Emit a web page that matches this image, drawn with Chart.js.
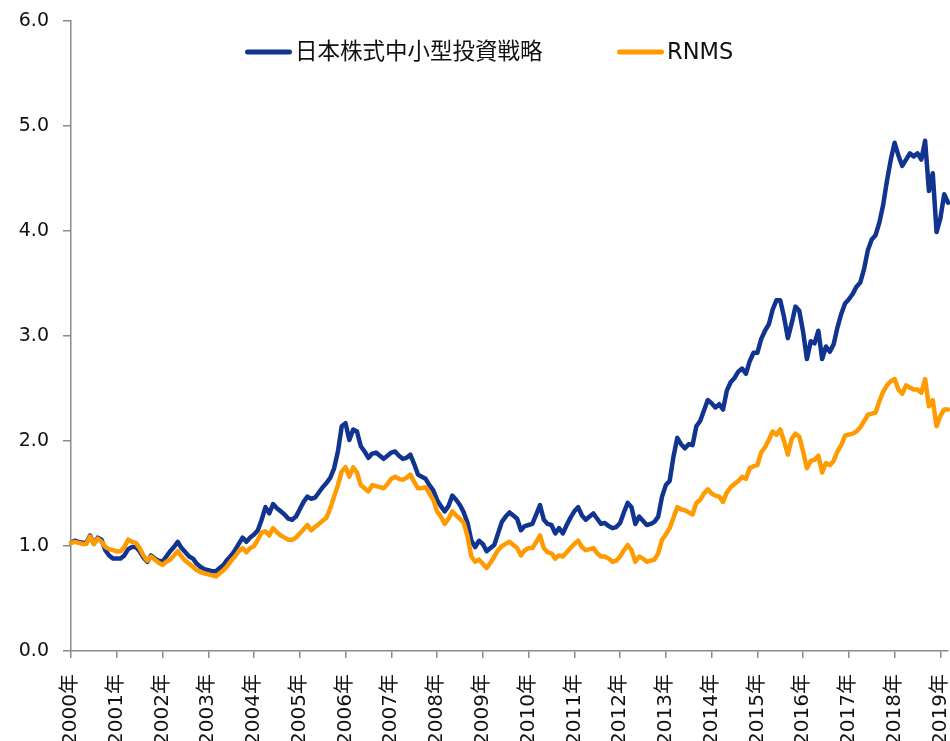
<!DOCTYPE html>
<html><head><meta charset="utf-8">
<script src="https://cdn.jsdelivr.net/npm/chart.js@4"></script>
<style>html,body{margin:0;padding:0;overflow:hidden;background:#fff}canvas{display:block}</style>
</head><body>
<canvas id="c" width="950" height="800"></canvas>
<script>
const seriesNames = ['日本株式中小型投資戦略', 'RNMS'];
const startYear = 2000;
const yearLabels = ['2000年','2001年','2002年','2003年','2004年','2005年','2006年','2007年','2008年','2009年','2010年','2011年','2012年','2013年','2014年','2015年','2016年','2017年','2018年','2019年'];
const strategy = [1.03,1.05,1.04,1.03,1.03,1.10,1.02,1.08,1.06,0.96,
 0.91,0.88,0.88,0.88,0.91,0.97,0.99,0.99,0.95,0.89,
 0.85,0.91,0.88,0.86,0.85,0.90,0.95,0.99,1.04,0.98,
 0.94,0.90,0.88,0.83,0.80,0.78,0.77,0.76,0.76,0.79,
 0.82,0.87,0.91,0.96,1.02,1.08,1.04,1.08,1.11,1.15,
 1.25,1.37,1.31,1.40,1.36,1.33,1.30,1.26,1.25,1.28,
 1.35,1.42,1.47,1.45,1.46,1.51,1.56,1.60,1.65,1.74,
 1.90,2.14,2.17,2.01,2.11,2.09,1.95,1.90,1.84,1.88,
 1.89,1.86,1.83,1.86,1.89,1.90,1.86,1.83,1.84,1.87,
 1.78,1.68,1.66,1.64,1.58,1.53,1.44,1.38,1.33,1.38,
 1.48,1.44,1.39,1.32,1.22,1.05,0.99,1.05,1.02,0.95,
 0.98,1.01,1.12,1.23,1.28,1.32,1.29,1.26,1.15,1.19,
 1.20,1.21,1.30,1.39,1.25,1.21,1.20,1.12,1.17,1.12,
 1.20,1.27,1.33,1.37,1.29,1.25,1.28,1.31,1.26,1.21,
 1.22,1.19,1.17,1.18,1.22,1.32,1.41,1.37,1.21,1.28,
 1.24,1.20,1.21,1.23,1.28,1.47,1.58,1.62,1.85,2.03,
 1.97,1.93,1.97,1.96,2.14,2.19,2.29,2.39,2.36,2.32,
 2.35,2.30,2.48,2.56,2.60,2.66,2.69,2.64,2.76,2.84,
 2.84,2.97,3.05,3.11,3.25,3.34,3.34,3.18,2.98,3.12,
 3.28,3.24,3.04,2.78,2.95,2.93,3.05,2.78,2.90,2.85,
 2.92,3.08,3.21,3.31,3.35,3.40,3.47,3.51,3.64,3.82,
 3.92,3.96,4.08,4.25,4.48,4.68,4.84,4.72,4.62,4.68,
 4.74,4.71,4.74,4.68,4.86,4.38,4.55,3.99,4.12,4.35,
 4.27];
const rnms = [1.03,1.04,1.03,1.02,1.02,1.09,1.02,1.07,1.04,0.99,
 0.97,0.96,0.95,0.95,0.99,1.06,1.04,1.03,0.98,0.91,
 0.86,0.90,0.87,0.84,0.82,0.85,0.87,0.91,0.95,0.90,
 0.86,0.83,0.80,0.77,0.75,0.74,0.73,0.72,0.71,0.74,
 0.77,0.81,0.86,0.90,0.95,0.98,0.94,0.98,1.00,1.06,
 1.13,1.14,1.10,1.17,1.13,1.10,1.08,1.06,1.06,1.08,
 1.12,1.16,1.20,1.15,1.18,1.21,1.24,1.27,1.36,1.47,
 1.58,1.71,1.75,1.66,1.75,1.70,1.58,1.55,1.52,1.58,
 1.57,1.56,1.55,1.59,1.64,1.66,1.64,1.63,1.65,1.68,
 1.61,1.55,1.55,1.56,1.50,1.44,1.33,1.28,1.21,1.26,
 1.33,1.29,1.26,1.22,1.09,0.90,0.85,0.87,0.83,0.79,
 0.84,0.90,0.96,1.00,1.02,1.04,1.01,0.98,0.91,0.96,
 0.98,0.98,1.04,1.10,0.98,0.94,0.93,0.88,0.91,0.90,
 0.94,0.98,1.02,1.05,0.99,0.96,0.97,0.98,0.93,0.90,
 0.90,0.88,0.85,0.86,0.90,0.96,1.01,0.96,0.85,0.90,
 0.88,0.85,0.86,0.87,0.93,1.06,1.11,1.17,1.27,1.37,
 1.35,1.34,1.32,1.30,1.41,1.44,1.50,1.54,1.50,1.48,
 1.47,1.42,1.51,1.56,1.59,1.62,1.66,1.64,1.74,1.76,
 1.77,1.89,1.94,2.01,2.09,2.06,2.11,2.00,1.87,2.02,
 2.07,2.04,1.90,1.74,1.81,1.82,1.86,1.70,1.79,1.77,
 1.81,1.90,1.96,2.05,2.06,2.07,2.09,2.13,2.19,2.25,
 2.26,2.27,2.38,2.47,2.53,2.57,2.59,2.49,2.45,2.53,
 2.51,2.49,2.49,2.46,2.59,2.33,2.39,2.14,2.24,2.30,
 2.30];

const months = strategy.map((_, i) => (startYear + Math.floor(i / 12)) + '-' + String(i % 12 + 1).padStart(2, '0'));

const FONT = '"DejaVu Sans", "Noto Sans CJK JP", sans-serif';
const AXIS = '#8a8a8a';
const COLORS = ['#10348f', '#ff9a00'];
Chart.defaults.font.family = FONT;
Chart.defaults.color = '#111';

const refLegend = {
  id: 'refLegend',
  afterDraw(chart) {
    const ctx = chart.ctx;
    ctx.save();
    ctx.font = '22.5px ' + FONT;
    ctx.textBaseline = 'middle';
    ctx.textAlign = 'left';
    const y = 52;
    const starts = [245, 617];
    chart.data.datasets.forEach((ds, i) => {
      const x0 = starts[i];
      ctx.strokeStyle = ds.borderColor;
      ctx.lineWidth = 5;
      ctx.lineCap = 'round';
      ctx.beginPath();
      ctx.moveTo(x0 + 2.5, y);
      ctx.lineTo(x0 + 44.5, y);
      ctx.stroke();
      ctx.fillStyle = '#111';
      ctx.fillText(ds.label, x0 + 50, y + 1);
    });
    ctx.restore();
  }
};

new Chart(document.getElementById('c'), {
  type: 'line',
  data: {
    labels: months,
    datasets: [
      { label: seriesNames[0], data: strategy, borderColor: COLORS[0], order: 1 },
      { label: seriesNames[1], data: rnms, borderColor: COLORS[1], order: 0 }
    ]
  },
  options: {
    responsive: false,
    animation: false,
    layout: { padding: { top: 21, right: 2, left: 0, bottom: 0 } },
    elements: {
      point: { radius: 0 },
      line: { borderWidth: 4.5, tension: 0, borderJoinStyle: 'round', borderCapStyle: 'round', fill: false }
    },
    plugins: { legend: { display: false }, tooltip: { enabled: false } },
    scales: {
      x: {
        type: 'category',
        offset: false,
        grid: { drawOnChartArea: false, drawTicks: true, tickLength: 7, color: AXIS, lineWidth: 1.5 },
        border: { display: true, color: AXIS, width: 1.5 },
        ticks: {
          autoSkip: false, minRotation: 90, maxRotation: 90, padding: 16,
          font: { size: 20 }, color: '#111',
          callback: (v) => yearLabels[Math.round(v / 12)]
        },
        afterBuildTicks: (s) => { s.ticks = s.ticks.filter(t => t.value % 12 === 0); },
        afterFit: (s) => { s.height = 149; s.paddingLeft = 0; s.paddingRight = 0; }
      },
      y: {
        min: 0, max: 6,
        grid: { drawOnChartArea: false, drawTicks: true, tickLength: 8, color: AXIS, lineWidth: 1.5 },
        border: { display: true, color: AXIS, width: 1.5 },
        ticks: { stepSize: 1, padding: 14, font: { size: 19 }, color: '#111', callback: (v) => Number(v).toFixed(1) },
        afterFit: (s) => { s.width = 71; s.paddingTop = 0; s.paddingBottom = 0; }
      }
    }
  },
  plugins: [refLegend]
});
</script>
</body></html>
